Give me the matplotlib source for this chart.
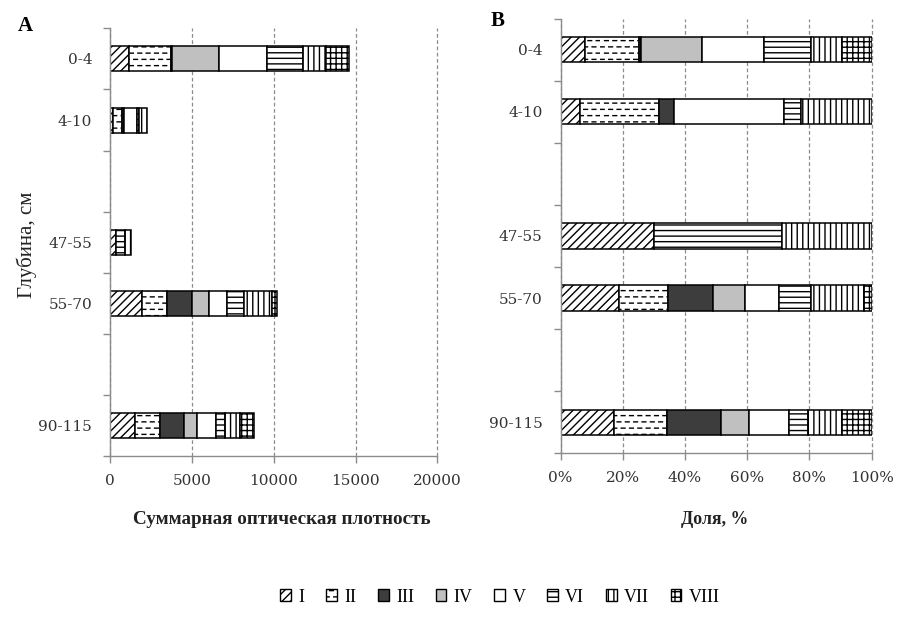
import warnings
warnings.filterwarnings("ignore")
import numpy as np
import matplotlib
matplotlib.use("Agg")
import matplotlib.pyplot as plt
import matplotlib.hatch as mhatch
from matplotlib.path import Path
from matplotlib.patches import Patch
from matplotlib.ticker import FixedLocator, PercentFormatter

# ---------------- data ----------------
slots = ["0-4", "4-10", "", "47-55", "55-70", "", "90-115"]
depths = ["0-4", "4-10", "47-55", "55-70", "90-115"]
groups = ["I", "II", "III", "IV", "V", "VI", "VII", "VIII"]
val_I = [1155, 138, 374, 1922, 1520]
val_II = [2544, 579, 0, 1576, 1502]
val_III = [102, 108, 0, 1485, 1502]
val_IV = [2866, 0, 0, 1037, 799]
val_V = [2895, 796, 0, 1129, 1142]
val_VI = [2222, 124, 516, 1037, 527]
val_VII = [1433, 515, 360, 1729, 958]
val_VIII = [1403, 0, 0, 254, 843]
a_ticks = [0, 5000, 10000, 15000, 20000]
b_ticks = [0, 0.2, 0.4, 0.6, 0.8, 1.0]


# ------------- custom dashed hatch ("_") -------------
class DashHatch(mhatch.HatchPatternBase):
    def __init__(self, hatch, density):
        n = hatch.count("_")
        self.rows = 16 * n
        self.cols = 12 * n
        self.num_vertices = self.rows * self.cols * 2

    def set_vertices_and_codes(self, vertices, codes):
        k = 0
        for i in range(self.rows):
            y = (i + 0.5) / self.rows
            off = 0.0 if i % 2 == 0 else 0.5
            for j in range(self.cols):
                x0 = (j + off + 0.05) / self.cols
                x1 = x0 + 0.45 / self.cols
                vertices[k] = (x0, y)
                vertices[k + 1] = (x1, y)
                codes[k] = Path.MOVETO
                codes[k + 1] = Path.LINETO
                k += 2


if DashHatch not in mhatch._hatch_types:
    mhatch._hatch_types.append(DashHatch)

plt.rcParams["hatch.linewidth"] = 1.0
plt.rcParams["hatch.color"] = "black"

values = np.array([val_I, val_II, val_III, val_IV, val_V, val_VI, val_VII, val_VIII], dtype=float)
ypos = [slots.index(d) for d in depths]

styles = [
    dict(facecolor="white", hatch="////"),
    dict(facecolor="white", hatch="_"),
    dict(facecolor="#3d3d3d"),
    dict(facecolor="#c0c0c0"),
    dict(facecolor="white"),
    dict(facecolor="white", hatch="---"),
    dict(facecolor="white", hatch="|||"),
    dict(facecolor="white", hatch="+++"),
]

W, H = 902, 618
fig = plt.figure(figsize=(W / 100, H / 100), dpi=100)
axA = fig.add_axes([110.3 / W, 1 - 456 / H, (437.3 - 110.3) / W, (456 - 28.4) / H])
axB = fig.add_axes([560.5 / W, 1 - 453.3 / H, (871.7 - 560.5) / W, (453.3 - 18.5) / H])

tickfont = dict(family="DejaVu Serif", size=11)
grey = "#8c8c8c"


def style_axis(ax, xt, xlim):
    ax.set_xlim(*xlim)
    ax.set_ylim(len(slots) - 0.5, -0.5)
    ax.set_xticks(xt)
    ax.set_yticks(range(len(slots)))
    ax.set_yticklabels(slots, **tickfont, color="#333333")
    ax.yaxis.set_minor_locator(FixedLocator(np.arange(-0.5, len(slots), 1.0)))
    ax.tick_params(axis="y", which="major", length=0, pad=13)
    ax.tick_params(axis="y", which="minor", length=5, color=grey, width=1)
    ax.tick_params(axis="x", length=5, color=grey, width=1, pad=8, labelcolor="#333333")
    for s in ["top", "right"]:
        ax.spines[s].set_visible(False)
    for s in ["left", "bottom"]:
        ax.spines[s].set_color(grey)
        ax.spines[s].set_linewidth(1)
    ax.grid(axis="x", color=grey, linestyle=(0, (3, 2)), linewidth=0.9)
    for gl in ax.get_xgridlines():
        gl.set_clip_on(False)
    ax.set_axisbelow(True)


def draw(ax, data):
    left = np.zeros(len(depths))
    for g, st, row in zip(groups, styles, data):
        mask = row > 0
        ax.barh(np.array(ypos)[mask], row[mask], left=left[mask], height=0.41,
                edgecolor="black", linewidth=1.1, label=g, **st)
        left += row


draw(axA, values)
shares = values / values.sum(axis=0)
draw(axB, shares)

style_axis(axA, a_ticks, (0, 20000))
style_axis(axB, b_ticks, (0, 1))
axB.xaxis.set_major_formatter(PercentFormatter(1.0, decimals=0))
for ax in (axA, axB):
    for lab in ax.get_xticklabels():
        lab.set_fontfamily("DejaVu Serif")
        lab.set_fontsize(11)

serif = "Liberation Serif"
fig.text(282 / W, 1 - 520 / H, "Суммарная оптическая плотность", ha="center", va="center",
         family=serif, fontsize=13.8, fontweight="bold", color="#222222")
fig.text(715 / W, 1 - 520 / H, "Доля, %", ha="center", va="center",
         family=serif, fontsize=12.8, fontweight="bold", color="#222222")
fig.text(26.5 / W, 1 - 245 / H, "Глубина, см", ha="center", va="center", rotation=90,
         family=serif, fontsize=15, color="#222222")
fig.text(25 / W, 1 - 26 / H, "A", ha="center", va="center", family=serif,
         fontsize=15, fontweight="bold")
fig.text(497.5 / W, 1 - 21.5 / H, "B", ha="center", va="center", family=serif,
         fontsize=15, fontweight="bold")

handles = [Patch(edgecolor="black", linewidth=1.0, **st) for st in styles]
fig.legend(handles, groups, loc="center", bbox_to_anchor=(500 / W, 1 - 597 / H), ncol=8,
           frameon=False, handlelength=0.6, handleheight=0.6, handletextpad=0.4,
           columnspacing=1.2, prop=dict(family=serif, size=13))

fig.savefig("out.png", dpi=100)
